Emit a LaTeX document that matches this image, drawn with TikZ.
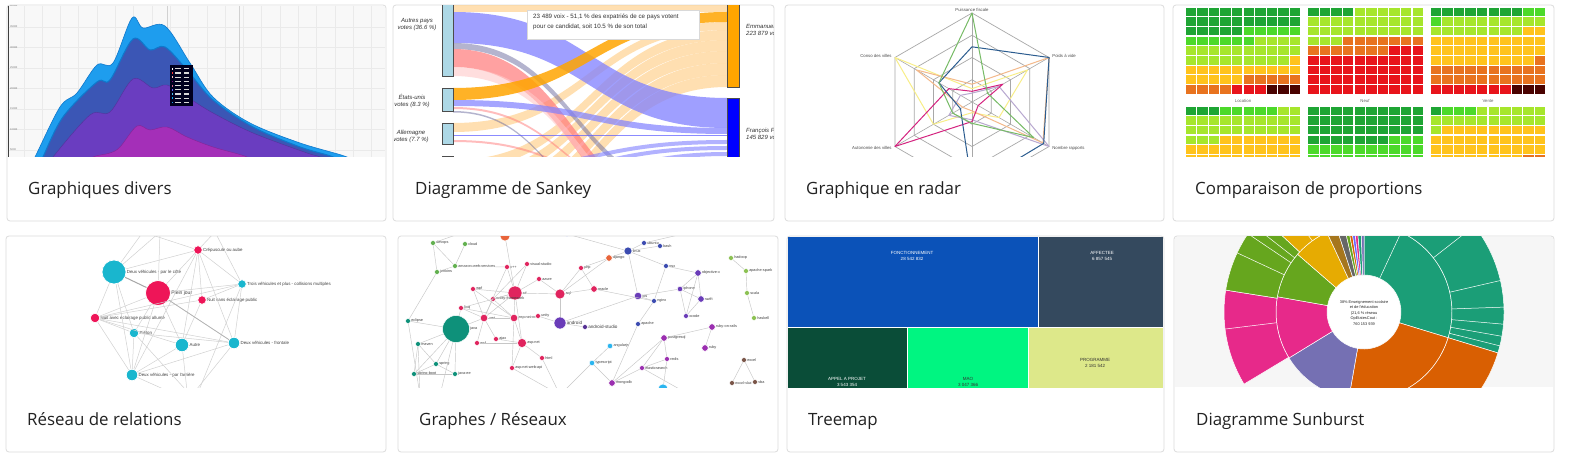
\documentclass[tikz,border=0pt]{standalone}
\usepackage{fontspec}
\setmainfont{Open Sans}
\newfontfamily\chartfont{Liberation Sans}
\usetikzlibrary{calc}
\definecolor{cardline}{HTML}{DCDCDC}
\definecolor{titlecol}{HTML}{222222}
\definecolor{gridbg}{HTML}{F8F8F8}
\definecolor{gridln}{HTML}{EAEAEA}
\definecolor{stA}{HTML}{1E9DEE}
\definecolor{stAedge}{HTML}{0F78CC}
\definecolor{stB}{HTML}{3B56B5}
\definecolor{stC}{HTML}{6A3DC0}
\definecolor{stD}{HTML}{A42FB8}
\definecolor{skblue}{HTML}{ADD8E6}
\definecolor{skor}{HTML}{FFA500}
\definecolor{skorl}{HTML}{FFCB7D}
\definecolor{skvio}{HTML}{8080FF}
\definecolor{sksal}{HTML}{FF7A7A}
\definecolor{skslate}{HTML}{6B6B9E}
\definecolor{skpink}{HTML}{FFC8C8}
\definecolor{rdgrid}{HTML}{A8A8A8}
\definecolor{rdgreen}{HTML}{77BB66}
\definecolor{rdblue}{HTML}{2B5C8F}
\definecolor{rdpeach}{HTML}{F4B98A}
\definecolor{rdyellow}{HTML}{F8EE88}
\definecolor{rdmag}{HTML}{D4237F}
\definecolor{rdlav}{HTML}{B8A8D0}
\definecolor{hA}{HTML}{1EA534}
\definecolor{hB}{HTML}{4CD92A}
\definecolor{hC}{HTML}{A6E62C}
\definecolor{hD}{HTML}{FFC31C}
\definecolor{hE}{HTML}{E8731F}
\definecolor{hF}{HTML}{E8141B}
\definecolor{hG}{HTML}{4A0200}
\definecolor{rcyan}{HTML}{19B6CE}
\definecolor{rpink}{HTML}{EE1558}
\definecolor{gG}{HTML}{62B04F}
\definecolor{gO}{HTML}{E8643A}
\definecolor{gDB}{HTML}{3B4BB0}
\definecolor{gP}{HTML}{6A3CB8}
\definecolor{gM}{HTML}{9B2FB0}
\definecolor{gLG}{HTML}{8CC152}
\definecolor{gBR}{HTML}{7A5548}
\definecolor{gC}{HTML}{2BB5EF}
\definecolor{gK}{HTML}{E0245E}
\definecolor{gT}{HTML}{0E917A}
\definecolor{tmA}{HTML}{0B52B8}
\definecolor{tmB}{HTML}{34495E}
\definecolor{tmC}{HTML}{0A4D38}
\definecolor{tmD}{HTML}{00F581}
\definecolor{tmE}{HTML}{DDE88A}
\definecolor{sbteal}{HTML}{1B9E77}
\definecolor{sborange}{HTML}{D95F02}
\definecolor{sbpurple}{HTML}{7570B3}
\definecolor{sbmag}{HTML}{E7298A}
\definecolor{sbgreen}{HTML}{66A61E}
\definecolor{sbyellow}{HTML}{E6AB02}
\definecolor{sbbrown}{HTML}{A6761D}
\definecolor{sbgrey}{HTML}{666666}
\definecolor{sbbg}{HTML}{F6F6F6}

\tikzset{
  card/.style={draw=cardline, line width=0.8pt, rounded corners=3pt, fill=white},
  cardtitle/.style={anchor=base west, font=\fontsize{16.9}{19}\selectfont, text=titlecol, inner sep=0pt},
  tinytxt/.style={font=\chartfont\fontsize{4.3}{5}\selectfont, inner sep=0.5pt, text=black!70},
  sktxt/.style={font=\chartfont\itshape\fontsize{6}{7}\selectfont, inner sep=0pt, text=black!80, align=center},
  gridline/.style={draw=gridln, line width=0.4pt},
  radargrid/.style={draw=rdgrid, line width=0.7pt},
  rnode/.style={circle, draw=white, line width=0.7pt, inner sep=0pt},
  redge/.style={draw=black!18, line width=0.5pt},
  gnode/.style={circle, draw=white, line width=0.5pt, inner sep=0pt, minimum size=5pt},
  gedge/.style={draw=black!22, line width=0.45pt},
  glab/.style={font=\chartfont\fontsize{3.8}{4}\selectfont, text=black!75, inner sep=0.3pt},
  rlab/.style={font=\chartfont\fontsize{4.4}{5}\selectfont, text=black!75, inner sep=0.3pt},
  tmtxt/.style={font=\chartfont\fontsize{4.5}{6}\selectfont, align=center, inner sep=0pt},
}

\newcommand\skflow[8]{%
  \pgfmathsetmacro\skxm{(#3+#6)/2}%
  \fill[#1, fill opacity=#2] (#3,#4) .. controls (\skxm,#4) and (\skxm,#7) .. (#6,#7) -- (#6,#8) .. controls (\skxm,#8) and (\skxm,#5) .. (#3,#5) -- cycle;}
\newcommand\hmrow[3]{%
  \foreach \hc [count=\hi from 0] in {#3} {\fill[\hc] ({#1+\hi*11.6+0.6},{#2+0.6}) rectangle ++(10.4,8.5);}}
\newcommand\radarline[7]{%
  \draw[#1, line width=1pt, line join=round] (90:{#2*89}) -- (30:{#3*89}) -- (-30:{#4*89}) -- (-90:{#5*89}) -- (-150:{#6*89}) -- (150:{#7*89}) -- cycle;}
\newcommand\sbseg[5]{%
  \filldraw[fill=#1, draw=white, line width=0.5pt] (#2:#4) arc[start angle=#2, end angle=#3, radius=#4] -- (#3:#5) arc[start angle=#3, end angle=#2, radius=#5] -- cycle;}

\begin{document}
\begin{tikzpicture}[x=1pt,y=-1pt]
\useasboundingbox (0,0) rectangle (1574,462);
\fill[white] (0,0) rectangle (1574,462);

% ============ cards ============
\draw[card] (7,5) rectangle (386,221);
\draw[card] (393,5) rectangle (774,221);
\draw[card] (785,5) rectangle (1164,221);
\draw[card] (1173,5) rectangle (1554,221);
\draw[card] (6,236) rectangle (386,452);
\draw[card] (398,236) rectangle (778,452);
\draw[card] (787,236) rectangle (1164,452);
\draw[card] (1174,236) rectangle (1554,452);

\node[cardtitle] (t1) at (28,195) {Graphiques divers};
\node[cardtitle] (t2) at (415,195) {Diagramme de Sankey};
\node[cardtitle] (t3) at (806,195) {Graphique en radar};
\node[cardtitle] (t4) at (1195,195) {Comparaison de proportions};
\node[cardtitle] (t5) at (27,425) {Réseau de relations};
\node[cardtitle] (t6) at (419,425) {Graphes / Réseaux};
\node[cardtitle] (t7) at (808,425) {Treemap};
\node[cardtitle] (t8) at (1196,425) {Diagramme Sunburst};

% ============ card 1 : stream graph ============
\begin{scope}
\clip (8,6) rectangle (385,157);
\fill[gridbg] (8,6) rectangle (385,157);
\foreach \x in {24,42,60.3,...,385} \draw[gridline] (\x,6) -- (\x,157);
\foreach \y in {27,47.5,...,157} \draw[gridline] (8,\y) -- (385,\y);
\draw[black!18, line width=0.5pt] (167,6) -- (167,157) (239,6) -- (239,157);
\draw[black!75, line width=0.8pt] (8.5,6) -- (8.5,157);
\foreach \y/\v in {6/40000,27/35000,47.5/30000,68/25000,88.5/20000,109/15000,129.5/10000,150/5000}
  \node[font=\chartfont\fontsize{2.6}{3}\selectfont, text=black!55, anchor=west, inner sep=0pt] at (10,\y) {\v};
\filldraw[fill=stA, draw=stAedge, line width=0.6pt] plot[smooth, tension=0.55] coordinates {(30,165)(35,157)(60,107)(77,93)(97,65)(113,63)(132,18)(143,28)(165,26)(190,63)(213,97)(250,123)(300,143)(347,157)(355,165)} -- cycle;
\filldraw[fill=stB, draw=stAedge, line width=1.1pt] plot[smooth, tension=0.55] coordinates {(40,165)(43,157)(63,117)(97,82)(110,80)(133,39)(150,50)(165,47)(187,70)(213,100)(253,127)(300,147)(333,157)(340,165)} -- cycle;
\filldraw[fill=stC, draw=stC!80!black, line width=0.4pt] plot[smooth, tension=0.55] coordinates {(50,165)(53,157)(90,115)(110,112)(133,79)(153,88)(167,85)(187,97)(213,113)(253,133)(307,153)(320,157)(325,165)} -- cycle;
\filldraw[fill=stD, draw=stD!80!black, line width=0.4pt] plot[smooth, tension=0.55] coordinates {(88,165)(93,157)(110,153)(120,147)(137,126)(150,130)(167,127)(187,137)(213,147)(247,157)(252,165)} -- cycle;
% tooltip
\fill[black!88!blue] (170,65) rectangle (193,106);
\foreach \i/\c in {0/white,1/red!80,2/pink,3/violet,4/purple!60,5/blue!60,6/cyan!70,7/cyan,8/stA} {
  \fill[\c] (171.5,{68+\i*4.2}) rectangle ++(1.8,1.8);
  \fill[white!85!black] (175,{68.3+\i*4.2}) rectangle ++(6,1.2);
  \fill[white!85!black] (184,{68.3+\i*4.2}) rectangle ++(5,1.2);
}
\end{scope}

% ============ card 2 : sankey ============
\begin{scope}
\clip (394,6) rectangle (773,157);
% flows
\skflow{skorl}{0.6}{453}{5}{12}{727}{3}{12}
\skflow{skorl}{0.6}{453}{160}{170}{727}{30}{40}
\skflow{skorl}{0.6}{453}{175}{186}{727}{40}{51}
\skflow{skorl}{0.6}{453}{192}{204}{727}{51}{63}
\skflow{skorl}{0.6}{453}{212}{224}{727}{63}{75}
\skflow{skorl}{0.6}{453}{230}{242}{727}{75}{87}
\skflow{skorl}{0.6}{453}{123}{132}{727}{22}{30}
\skflow{skvio}{0.75}{453}{12}{43}{727}{98}{128}
\skflow{skslate}{0.5}{453}{43}{49}{700}{190}{196}
\skflow{sksal}{0.7}{453}{49}{67}{700}{215}{233}
\skflow{skpink}{0.6}{453}{67}{76}{720}{240}{249}
\skflow{skvio}{0.7}{453}{100}{106}{727}{128}{134}
\skflow{skvio}{0.6}{453}{170}{174}{727}{140}{144}
\skflow{skvio}{0.6}{453}{180}{184}{727}{146}{150}
\skflow{skvio}{0.6}{453}{205}{209}{727}{152}{156}
\skflow{skor}{0.85}{453}{88}{100}{727}{12}{22}
\skflow{sksal}{0.5}{453}{107}{109}{680}{200}{202}
\skflow{sksal}{0.5}{453}{140}{142}{680}{190}{192}
\skflow{skslate}{0.5}{453}{111}{112.5}{650}{220}{221.5}
\draw[skvio!70!blue, line width=1.2pt, opacity=0.7] (453,135.5) -- (727,135.5);
% nodes
\filldraw[fill=skblue, draw=black!70, line width=0.6pt] (442,3) rectangle (453,76);
\filldraw[fill=skblue, draw=black!70, line width=0.6pt] (442,88) rectangle (453,111);
\filldraw[fill=skblue, draw=black!70, line width=0.6pt] (442,123) rectangle (453,144);
\filldraw[fill=skblue, draw=black!70, line width=0.6pt] (442,156) rectangle (453,170);
\filldraw[fill=skor, draw=black!70, line width=0.6pt] (727,3) rectangle (739,87);
\filldraw[fill=blue, draw=black!70, line width=0.6pt] (727,98) rectangle (739,170);
\node[sktxt] (sl1) at (417,25) {Autres pays\\votes (36.6 \%)};
\node[sktxt] (sl2) at (412,101) {États-unis\\votes (8.3 \%)};
\node[sktxt] (sl3) at (411,136) {Allemagne\\votes (7.7 \%)};
\node[sktxt, anchor=west, align=left] (sr1) at (746,30) {Emmanuel Macron\\223 879 votes};
\node[sktxt, anchor=west, align=left] (sr2) at (746,134) {François Fillon\\145 829 votes};
% tooltip
\filldraw[fill=white, draw=black!15, line width=0.5pt] (527,10) rectangle (699,39);
\node[font=\chartfont\fontsize{6.2}{9.5}\selectfont, text=black!80, anchor=north west, align=left, inner sep=0pt] (sktip) at (533,14) {23 489 voix - 51,1 \% des expatriés de ce pays votent\\pour ce candidat, soit 10.5 \% de son total};
\end{scope}

% ============ card 3 : radar ============
\begin{scope}
\clip (786,6) rectangle (1163,157);
\begin{scope}[shift={(972,102)}, yscale=-1]
\foreach \r in {22.25,44.5,66.75,89}
  \draw[radargrid] (90:\r) -- (30:\r) -- (-30:\r) -- (-90:\r) -- (-150:\r) -- (150:\r) -- cycle;
\foreach \a in {90,30,-30,-90,-150,150} \draw[radargrid, line width=0.6pt] (0,0) -- (\a:89);
\radarline{rdyellow}{0.15}{0.72}{0.35}{0.12}{0.5}{1.0}
\radarline{rdpeach}{0.2}{1.0}{0.92}{0.1}{0.12}{0.72}
\radarline{rdlav}{0.1}{0.35}{1.0}{0.2}{0.3}{0.15}
\radarline{rdmag}{0.12}{0.4}{0.08}{0.22}{1.0}{0.3}
\radarline{rdblue}{0.62}{1.0}{0.93}{0.95}{0.15}{0.43}
\radarline{rdgreen}{1.0}{0.2}{0.8}{0.24}{0.25}{0.43}
\node[tinytxt, anchor=south] (ra1) at (90:90) {Puissance fiscale};
\node[tinytxt, anchor=west] (ra2) at (30:92) {Poids à vide};
\node[tinytxt, anchor=west] (ra3) at (-30:92) {Nombre rapports};
\node[tinytxt, anchor=east] (ra5) at (-150:92) {Autonomie des villes};
\node[tinytxt, anchor=east] (ra6) at (150:92) {Conso des villes};
\end{scope}
\end{scope}

% ============ card 4 : heat maps ============
\begin{scope}
\clip (1174,6) rectangle (1553,157);
% panel 1
\hmrow{1185}{7}{hA,hA,hA,hA,hA,hA,hA,hA,hA,hA}
\hmrow{1185}{16.7}{hA,hA,hA,hA,hA,hA,hA,hA,hA,hA}
\hmrow{1185}{26.4}{hA,hA,hA,hA,hA,hB,hB,hB,hB,hB}
\hmrow{1185}{36.1}{hB,hB,hB,hB,hB,hB,hC,hC,hC,hC}
\hmrow{1185}{45.8}{hC,hC,hC,hC,hC,hC,hC,hC,hC,hC}
\hmrow{1185}{55.5}{hC,hC,hC,hC,hC,hC,hC,hC,hC,hD}
\hmrow{1185}{65.2}{hD,hD,hD,hD,hD,hD,hD,hD,hD,hD}
\hmrow{1185}{74.9}{hD,hD,hD,hD,hD,hE,hE,hE,hE,hE}
\hmrow{1185}{84.6}{hE,hE,hE,hE,hF,hF,hF,hG,hG,hG}
% panel 2
\hmrow{1307.5}{7}{hA,hA,hA,hA,hC,hC,hC,hC,hC,hC}
\hmrow{1307.5}{16.7}{hC,hC,hC,hC,hC,hC,hC,hC,hC,hC}
\hmrow{1307.5}{26.4}{hC,hC,hC,hC,hC,hC,hC,hC,hC,hC}
\hmrow{1307.5}{36.1}{hC,hC,hC,hE,hE,hE,hE,hE,hE,hE}
\hmrow{1307.5}{45.8}{hE,hE,hE,hE,hE,hE,hE,hF,hF,hF}
\hmrow{1307.5}{55.5}{hF,hF,hF,hF,hF,hF,hF,hF,hF,hF}
\hmrow{1307.5}{65.2}{hF,hF,hF,hF,hF,hF,hF,hF,hF,hF}
\hmrow{1307.5}{74.9}{hF,hF,hF,hF,hF,hF,hF,hF,hF,hF}
\hmrow{1307.5}{84.6}{hF,hF,hF,hF,hF,hF,hF,hF,hF,hF}
% panel 3
\hmrow{1430}{7}{hA,hA,hA,hA,hA,hA,hA,hA,hB,hB}
\hmrow{1430}{16.7}{hB,hC,hC,hC,hC,hC,hC,hC,hC,hC}
\hmrow{1430}{26.4}{hC,hC,hC,hC,hC,hC,hC,hC,hD,hD}
\hmrow{1430}{36.1}{hD,hD,hD,hD,hD,hD,hD,hD,hD,hD}
\hmrow{1430}{45.8}{hD,hD,hD,hD,hD,hD,hD,hD,hD,hD}
\hmrow{1430}{55.5}{hD,hD,hD,hD,hD,hD,hD,hD,hD,hE}
\hmrow{1430}{65.2}{hE,hE,hE,hE,hE,hE,hE,hE,hE,hE}
\hmrow{1430}{74.9}{hE,hE,hE,hE,hE,hE,hE,hE,hE,hE}
\hmrow{1430}{84.6}{hF,hF,hF,hF,hF,hF,hF,hG,hG,hG}
% labels
\node[tinytxt, text=black!60] (hl1) at (1243,101) {Location};
\node[tinytxt, text=black!60] (hl2) at (1365,101) {Neuf};
\node[tinytxt, text=black!60] (hl3) at (1488,101) {Vente};
% panel 4
\hmrow{1185}{106}{hA,hA,hA,hB,hB,hB,hB,hB,hC,hC}
\hmrow{1185}{115.7}{hC,hC,hC,hC,hC,hC,hC,hC,hC,hC}
\hmrow{1185}{125.4}{hC,hC,hC,hC,hC,hC,hC,hC,hC,hC}
\hmrow{1185}{135.1}{hC,hC,hC,hD,hD,hD,hD,hD,hD,hD}
\hmrow{1185}{144.8}{hD,hD,hD,hD,hD,hD,hD,hD,hD,hD}
\hmrow{1185}{154.5}{hD,hD,hD,hD,hD,hD,hD,hD,hD,hD}
% panel 5
\hmrow{1307.5}{106}{hA,hA,hA,hA,hA,hA,hA,hA,hA,hA}
\hmrow{1307.5}{115.7}{hA,hA,hA,hA,hA,hA,hA,hA,hA,hA}
\hmrow{1307.5}{125.4}{hA,hA,hA,hA,hA,hA,hA,hA,hA,hA}
\hmrow{1307.5}{135.1}{hA,hA,hA,hA,hA,hA,hA,hB,hB,hB}
\hmrow{1307.5}{144.8}{hB,hB,hB,hB,hB,hB,hB,hB,hB,hB}
\hmrow{1307.5}{154.5}{hB,hB,hB,hB,hB,hB,hB,hB,hB,hB}
% panel 6
\hmrow{1430}{106}{hA,hB,hB,hB,hC,hC,hC,hC,hC,hC}
\hmrow{1430}{115.7}{hC,hC,hC,hC,hC,hC,hC,hC,hC,hC}
\hmrow{1430}{125.4}{hC,hD,hD,hD,hD,hD,hD,hD,hD,hD}
\hmrow{1430}{135.1}{hD,hD,hD,hD,hD,hD,hD,hD,hD,hD}
\hmrow{1430}{144.8}{hD,hD,hD,hD,hD,hD,hD,hD,hD,hD}
\hmrow{1430}{154.5}{hD,hD,hD,hD,hD,hD,hD,hD,hE,hE}
\end{scope}

% ============ card 5 : relations network ============
\begin{scope}
\clip (7,237) rectangle (385,387);
\node[rnode, fill=rcyan, minimum size=24pt, label={[rlab]right:Deux véhicules - par le côté}] (n1) at (114,272) {};
\node[rnode, fill=rpink, minimum size=25pt, label={[rlab, font=\chartfont\fontsize{5}{6}\selectfont]right:Plein jour}] (n2) at (158,293) {};
\node[rnode, fill=rpink, minimum size=8.5pt, label={[rlab]right:Crépuscule ou aube}] (n3) at (198,250) {};
\node[rnode, fill=rcyan, minimum size=8.5pt, label={[rlab]right:Trois véhicules et plus - collisions multiples}] (n4) at (242,284) {};
\node[rnode, fill=rpink, minimum size=8.5pt, label={[rlab]right:Nuit sans éclairage public}] (n5) at (202,300) {};
\node[rnode, fill=rpink, minimum size=9.5pt, label={[rlab]right:Nuit avec éclairage public allumé}] (n6) at (95,318) {};
\node[rnode, fill=rcyan, minimum size=9.5pt, label={[rlab]right:Piéton}] (n7) at (134,333) {};
\node[rnode, fill=rcyan, minimum size=13.5pt, label={[rlab]right:Autre}] (n8) at (182,345) {};
\node[rnode, fill=rcyan, minimum size=11.5pt, label={[rlab]right:Deux véhicules - frontale}] (n9) at (234,343) {};
\node[rnode, fill=rcyan, minimum size=11.5pt, label={[rlab]right:Deux véhicules - par l'arrière}] (n10) at (132,375) {};
\coordinate (ra) at (143,232);
\coordinate (rb) at (188,400);
\coordinate (rc) at (160,232);
\coordinate (rd) at (215,232);
\coordinate (re) at (195,400);
\foreach \a/\b in {n1/n3,n1/n6,n1/n7,n1/ra,n1/n10,n2/n3,n2/n9,n2/n8,n2/n10,n2/n4,n2/n7,n3/n5,n3/n8,n3/n9,n3/n4,n4/n5,n4/n6,n4/n9,n5/n8,n6/n9,n6/n7,n6/n8,n7/n10,n8/rb,n9/rb,n10/rb,n9/n10,n3/n10,ra/n3,n7/n9,n1/rc,rc/n2,rd/n4,n3/rd,n6/n10,n8/n10,n5/n6,n7/re,n4/re,n2/n6}
  \draw[redge] (\a) -- (\b);
\draw[black!35, line width=1pt] (n1) -- (n2);
\draw[black!30, line width=0.7pt] (n2) -- (n9);
\end{scope}

% ============ card 6 : graph network ============
\begin{scope}
\clip (399,237) rectangle (777,387);
% green
\node[gnode, fill=gG, label={[glab]right:devops}] (g1) at (433,243) {};
\node[gnode, fill=gG, label={[glab]right:cloud}] (g2) at (465,244) {};
\node[gnode, fill=gG, label={[glab]right:amazon-web-services}] (g3) at (455,266) {};
\node[gnode, fill=gG, label={[glab]right:jenkins}] (g4) at (437,272) {};
% orange
\node[gnode, fill=gO, minimum size=10pt] (o1) at (505,236) {};
\node[gnode, fill=gO, minimum size=6.5pt, label={[glab]right:django}] (o2) at (609,258) {};
% dark blue
\node[gnode, fill=gDB, minimum size=5pt] (d0) at (567,234) {};
\node[gnode, fill=gDB, minimum size=8pt, label={[glab]right:linux}] (d1) at (628,251) {};
\node[gnode, fill=gDB, label={[glab]right:ubuntu}] (d2) at (644,243) {};
\node[gnode, fill=gDB, label={[glab]right:bash}] (d3) at (660,246) {};
\node[gnode, fill=gDB, label={[glab]right:osx}] (d4) at (666,266) {};
\node[gnode, fill=gDB, label={[glab]right:nginx}] (d5) at (654,301) {};
\node[gnode, fill=gDB, label={[glab]right:apache}] (d6) at (638,324) {};
% purple
\node[gnode, fill=gP, minimum size=6.5pt, label={[glab]right:objective-c}] (p1) at (698,273) {};
\node[gnode, fill=gP, minimum size=5.5pt, label={[glab]right:iphone}] (p2) at (680,289) {};
\node[gnode, fill=gP, minimum size=6.5pt, label={[glab]right:swift}] (p3) at (701,299) {};
\node[gnode, fill=gP, label={[glab]right:xcode}] (p4) at (686,316) {};
\node[gnode, fill=gP, minimum size=7.5pt, label={[glab]right:ios}] (p5) at (638,296) {};
\node[gnode, fill=gP, minimum size=12pt, label={[glab, font=\chartfont\fontsize{4.6}{5}\selectfont]right:android}] (p6) at (560,323) {};
\node[gnode, fill=gP!80!black, label={[glab, font=\chartfont\fontsize{4.6}{5}\selectfont]right:android-studio}] (p7) at (585,327) {};
% magenta
\node[gnode, fill=gM, minimum size=6.5pt, label={[glab]right:ruby-on-rails}] (m1) at (712,327) {};
\node[gnode, fill=gM, minimum size=6.5pt, label={[glab]right:postgresql}] (m2) at (664,338) {};
\node[gnode, fill=gM, minimum size=6.5pt, label={[glab]right:ruby}] (m3) at (705,348) {};
\node[gnode, fill=gM, label={[glab]right:redis}] (m4) at (667,359) {};
\node[gnode, fill=gM, label={[glab]right:elasticsearch}] (m5) at (642,368) {};
\node[gnode, fill=gM, minimum size=6.5pt, label={[glab]right:mongodb}] (m6) at (612,383) {};
% light green
\node[gnode, fill=gLG, label={[glab]right:hadoop}] (l1) at (731,258) {};
\node[gnode, fill=gLG, label={[glab]right:apache-spark}] (l2) at (746,271) {};
\node[gnode, fill=gLG, label={[glab]right:scala}] (l3) at (747,293) {};
\node[gnode, fill=gLG, label={[glab]right:haskell}] (l4) at (754,318) {};
% brown
\node[gnode, fill=gBR, label={[glab]right:excel}] (b1) at (744,360) {};
\node[gnode, fill=gBR, label={[glab]right:excel-vba}] (b2) at (732,383) {};
\node[gnode, fill=gBR, label={[glab]right:vba}] (b3) at (755,382) {};
% cyan
\node[gnode, fill=gC, minimum size=5.5pt, label={[glab]right:angularjs}] (c1) at (610,346) {};
\node[gnode, fill=gC, minimum size=5.5pt, label={[glab]right:typescript}] (c2) at (592,363) {};
\node[gnode, fill=gC, minimum size=10pt] (c3) at (663,389) {};
% pink
\node[gnode, fill=gK, label={[glab]right:visual-studio}] (k1) at (527,264) {};
\node[gnode, fill=gK, label={[glab]right:c++}] (k2) at (507,267) {};
\node[gnode, fill=gK, label={[glab]right:php}] (k3) at (581,268) {};
\node[gnode, fill=gK, label={[glab]right:azure}] (k4) at (539,279) {};
\node[gnode, fill=gK, minimum size=14pt, label={[glab]right:c\#}] (k5) at (515,293) {};
\node[gnode, fill=gK, minimum size=10pt, label={[glab]right:sql}] (k6) at (560,294) {};
\node[gnode, fill=gK, minimum size=6.5pt, label={[glab]right:oracle}] (k7) at (594,289) {};
\node[gnode, fill=gK, label={[glab]right:wpf}] (k8) at (473,289) {};
\node[gnode, fill=gK, label={[glab]right:entity-framework}] (k9) at (493,299) {};
\node[gnode, fill=gK, label={[glab]right:linq}] (k10) at (461,308) {};
\node[gnode, fill=gK, minimum size=7.5pt, label={[glab]right:.net}] (k11) at (484,318) {};
\node[gnode, fill=gK, minimum size=7.5pt, label={[glab]right:asp.net-mvc}] (k12) at (514,318) {};
\node[gnode, fill=gK, label={[glab]right:unity}] (k13) at (538,316) {};
\node[gnode, fill=gK, label={[glab]right:wcf}] (k14) at (477,343) {};
\node[gnode, fill=gK, label={[glab]right:ajax}] (k15) at (496,339) {};
\node[gnode, fill=gK, minimum size=9pt, label={[glab]right:asp.net}] (k16) at (522,343) {};
\node[gnode, fill=gK, label={[glab]right:html}] (k17) at (542,358) {};
\node[gnode, fill=gK, label={[glab]right:asp.net-web-api}] (k18) at (512,368) {};
% teal
\node[gnode, fill=gT, minimum size=27pt, label={[glab]right:java}] (tj) at (456,329) {};
\node[gnode, fill=gT, label={[glab]right:eclipse}] (tt2) at (408,321) {};
\node[gnode, fill=gT, label={[glab]right:maven}] (tt3) at (418,344) {};
\node[gnode, fill=gT, label={[glab]right:spring}] (tt4) at (436,364) {};
\node[gnode, fill=gT, label={[glab]right:spring-boot}] (tt5) at (414,374) {};
\node[gnode, fill=gT, label={[glab]right:java-ee}] (tt6) at (455,374) {};
\coordinate (gx1) at (420,395);
\coordinate (gx2) at (440,395);
\coordinate (gx3) at (560,395);
\coordinate (gx4) at (590,230);
\coordinate (gx5) at (700,230);
\coordinate (gx6) at (470,230);
\coordinate (gx7) at (690,395);
\foreach \a/\b in {g1/g3,g2/g3,g3/g4,g1/g4,g4/tt2,g3/k2,g1/gx6,o1/k5,o1/gx6,d0/d1,d1/o2,d1/d2,d1/d3,d1/d4,d1/p5,d4/p1,p1/p2,p1/p3,p1/p4,p2/p3,p2/p4,p3/p4,p5/p2,p5/d5,p5/p6,d5/d6,d6/m6,d5/d4,d2/gx5,d0/gx4,o2/k6,
  m1/m2,m1/m3,m2/m4,m2/m5,m2/m6,m4/m5,m5/m6,m4/c3,m5/gx7,l1/l2,l2/l3,l3/l4,b1/b2,b1/b3,b2/b3,c1/c2,c2/m6,c2/gx3,
  k5/k1,k5/k2,k5/k6,k5/k8,k5/k9,k5/k10,k5/k11,k5/k12,k5/k16,k5/k4,k6/k7,k6/k3,k6/k4,k3/k7,k1/k9,k8/k11,k9/k11,k10/k11,k11/k12,k11/k14,k12/k16,k12/k13,k11/k15,k14/k16,k15/k16,k16/k17,k16/k18,k12/k18,k13/p6,k6/p6,p6/p7,k8/k12,k10/k12,k9/k12,k2/k11,
  tj/tt2,tj/tt3,tj/tt4,tj/tt5,tj/tt6,tj/k11,tj/k10,tt3/tt5,tt3/tt4,tt4/tt5,tt4/tt6,tt5/tt6,tj/gx2,tt2/gx1,tt3/gx1,k17/gx3,k18/gx3,k7/d5,k3/o2}
  \draw[gedge] (\a) -- (\b);
\end{scope}

% ============ card 7 : treemap ============
\begin{scope}
\clip (788,237) rectangle (1163,387);
\fill[white] (788,237) rectangle (1163,387);
\fill[tmA] (788,237) rectangle (1037.5,326.5);
\fill[tmB] (1039,237) rectangle (1163,326.5);
\fill[tmC] (788,328) rectangle (906.5,390);
\fill[tmD] (908,328) rectangle (1027.5,390);
\fill[tmE] (1029,328) rectangle (1163,390);
\node[tmtxt, text=white] (tmf) at (912,256) {FONCTIONNEMENT\\28 542 832};
\node[tmtxt, text=white] (tma) at (1102,256) {AFFECTEE\\6 857 545};
\node[tmtxt, text=white] (tmp) at (847,382) {APPEL A PROJET\\3 543 354};
\node[tmtxt, text=black!80] (tmm) at (968,382) {MAO\\3 047 366};
\node[tmtxt, text=black!80] (tmg) at (1095,363) {PROGRAMME\\2 181 542};
\end{scope}

% ============ card 8 : sunburst ============
\begin{scope}
\clip (1175,237) rectangle (1553,387);
\fill[sbbg] (1175,237) rectangle (1553,387);
\begin{scope}[shift={(1364,312)}, yscale=-1]
\sbseg{sbteal}{-17}{90}{37}{88}
\sbseg{sbteal}{-17}{90}{88}{140}
\sbseg{sborange}{-100}{-17}{37}{88}
\sbseg{sborange}{-100}{-17}{88}{140}
\sbseg{sbpurple}{-148.5}{-100}{37}{88}
\sbseg{sbmag}{170}{211.5}{37}{88}
\sbseg{sbmag}{171}{211}{88}{140}
\sbseg{sbgreen}{139}{170}{37}{88}
\sbseg{sbgreen}{137}{171}{88}{140}
\sbseg{sbyellow}{115}{139}{37}{88}
\sbseg{sbyellow}{115}{137}{88}{140}
\sbseg{sbbrown}{108}{115}{37}{88}
\sbseg{sbbrown}{108}{115}{88}{140}
\sbseg{sbgrey}{103}{108}{37}{88}
\sbseg{sbgrey}{103}{108}{88}{140}
\sbseg{sbgreen}{100.5}{103}{37}{95}
\sbseg{sborange}{98.5}{100.5}{37}{95}
\sbseg{blue!60}{96.5}{98.5}{37}{95}
\sbseg{sbmag}{94.5}{96.5}{37}{95}
\sbseg{sbteal}{92}{94.5}{37}{95}
\sbseg{sbpurple}{90}{92}{37}{95}
\foreach \a in {38,13,2,-5,-10,-14,-60,187,155,146,142,126}
  \draw[white, line width=0.5pt] (\a:88) -- (\a:140);
\foreach \a in {65}
  \draw[white, line width=0.5pt] (\a:37) -- (\a:88);
\fill[white] (0,0) circle[radius=36.5];
\node[font=\chartfont\fontsize{3.9}{5.6}\selectfont, align=center, text=black!85, inner sep=0pt] (sbc) at (0,-1) {38\% Enseignement scolaire\\et de l'éducation\\(21,6 \% réseau\\OpEtatesCout :\\760 153 939};
\end{scope}
\end{scope}

\end{tikzpicture}
\end{document}
